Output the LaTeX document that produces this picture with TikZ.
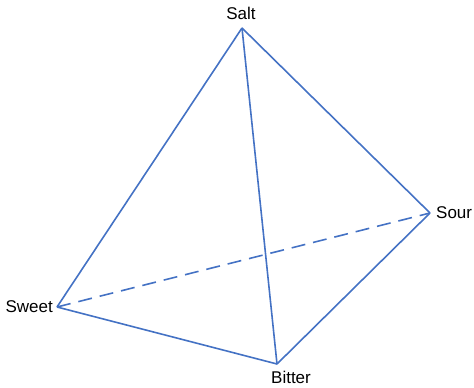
\documentclass[tikz,border=0pt]{standalone}
\usepackage{fontspec}
\setmainfont{Liberation Sans}
\usetikzlibrary{positioning}
\definecolor{edgeblue}{RGB}{68,114,196}

\begin{document}
\begin{tikzpicture}[
    x=1pt, y=-1pt,
    taste/.style={font=\fontsize{17}{20}\selectfont, inner sep=0pt, text=black},
    edge/.style={edgeblue, line width=1.6pt, line join=round},
    hidden/.style={edge, dash pattern=on 14pt off 8pt},
  ]
  \useasboundingbox (0,0) rectangle (474,388);
  % vertices
  \coordinate (salt) at (242,28);
  \coordinate (sour) at (430,213);
  \coordinate (sweet) at (57,307);
  \coordinate (bitter) at (277,364);
  % labels
  \node[taste, above=8pt of salt, xshift=-1pt] (lsalt) {Salt};
  \node[taste, right=6pt of sour] (lsour) {Sour};
  \node[taste, left=4pt of sweet] (lsweet) {Sweet};
  \node[taste, below=7pt of bitter, xshift=14pt] (lbitter) {Bitter};
  % edges
  \foreach \a/\b in {salt/sweet,salt/bitter,salt/sour,sweet/bitter,bitter/sour}
    \draw[edge] (\a) -- (\b);
  \draw[hidden] (sweet) -- (sour);
\end{tikzpicture}
\end{document}
